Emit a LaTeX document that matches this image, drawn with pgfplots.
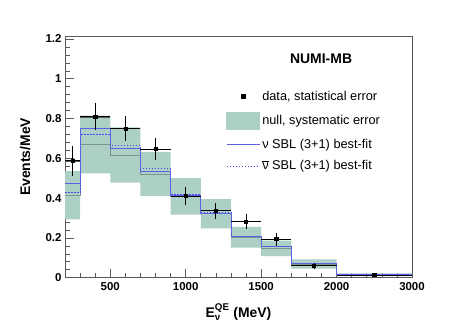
\documentclass[border=0pt]{standalone}
\usepackage{pgfplots}
\pgfplotsset{compat=1.18}
\usepackage{pgfplotstable}
\usepgfplotslibrary{fillbetween}
\usepackage{amsmath}
\usepackage{fontspec}
\setmainfont{Liberation Sans}

\definecolor{boxc}{RGB}{172,208,197}
\definecolor{nullc}{RGB}{120,150,140}
\definecolor{nuc}{RGB}{95,95,225}
\definecolor{nubarc}{RGB}{70,70,245}

\pgfplotsset{
  linelegend/.style={legend image code/.code={\draw[##1] (0bp,0bp) -- (33bp,0bp);}},
  boxlegend/.style={legend image code/.code={\fill[boxc] (0bp,-8.5bp) rectangle (33bp,8.5bp);}},
  dotlegend/.style={legend image code/.code={\fill[black] (14.5bp,-2bp) rectangle (18.5bp,2bp);}},
}

% bin edges (the 2000-3000 bin is drawn from 2000 to 2500)
\pgfplotstableread{
x    lo    hi    nul   nu    nubar
200  0.293 0.536 0.415 0.475 0.427
300  0.525 0.815 0.672 0.751 0.722
500  0.478 0.756 0.615 0.650 0.664
700  0.411 0.632 0.521 0.536 0.548
900  0.317 0.500 0.410 0.413 0.419
1100 0.248 0.395 0.322 0.324 0.328
1300 0.151 0.256 0.204 0.206 0.208
1500 0.109 0.186 0.148 0.156 0.158
1700 0.045 0.092 0.068 0.072 0.074
2000 0.008 0.022 0.015 0.017 0.017
2500 0.008 0.022 0.015 0.017 0.017
}\hist

\pgfplotstableread{
x    y      ex  eyp   eym
250  0.588  50  0.074 0.077
400  0.810  100 0.067 0.068
600  0.751  100 0.062 0.062
800  0.647  100 0.054 0.055
1000 0.411  100 0.046 0.045
1200 0.337  100 0.040 0.042
1400 0.282  100 0.037 0.037
1600 0.195  100 0.028 0.034
1850 0.060  150 0.015 0.015
2250 0.0136 250 0.004 0.004
}\data

\begin{document}
\begin{tikzpicture}
\begin{axis}[
    scale only axis,
    width=347bp, height=241.7bp,
    at={(65bp,49.3bp)}, anchor=south west,
    xmin=200, xmax=2500, ymin=0, ymax=1.215,
    xtick={500,1000,1500,2000,2500},
    xticklabels={500,1000,1500,2000,3000},
    minor xtick={300,400,600,700,800,900,1100,1200,1300,1400,1600,1700,1800,1900,2100,2200,2300,2400},
    ytick={0,0.2,0.4,0.6,0.8,1,1.2},
    yticklabels={0,0.2,0.4,0.6,0.8,1,1.2},
    minor y tick num=4,
    tick align=inside,
    xtick pos=lower, ytick pos=left,
    major tick length=9bp, minor tick length=4.5bp,
    tick style={black!65, line width=0.6bp},
    axis line style={black!65, line width=0.8bp},
    ticklabel style={font=\bfseries\fontsize{11.5}{13}\selectfont},
    xticklabel style={yshift=-1bp},
    xlabel={E$^{\text{\bfseries QE}}_{\text{ν}}$ (MeV)},
    ylabel={Events/MeV},
    label style={font=\bfseries\fontsize{14}{16}\selectfont},
    xlabel style={at={(axis description cs:0.5,-0.143)}, anchor=center},
    ylabel style={at={(axis description cs:-0.115,0.5)}, anchor=center},
    legend cell align=left,
    legend style={draw=none, fill=none, at={(0.464,0.778)}, anchor=north west,
        inner sep=0pt, row sep=9bp,
        font=\fontsize{12.8}{15}\selectfont,
        nodes={inner xsep=2.2bp, inner ysep=1bp}},
]
\addlegendimage{dotlegend}
\addlegendentry{data, statistical error}
\addlegendimage{boxlegend}
\addlegendentry{null, systematic error}
\addlegendimage{linelegend, nuc, line width=0.9bp}
\addlegendentry{ν SBL (3+1) best-fit}
\addlegendimage{linelegend, nubarc, line width=0.9bp, dash pattern=on 1.5bp off 1.5bp}
\addlegendentry{$\overline{\text{ν}}$ SBL (3+1) best-fit}

\addplot[name path=up, const plot, draw=none, forget plot] table[x=x, y=hi] {\hist};
\addplot[name path=dn, const plot, draw=none, forget plot] table[x=x, y=lo] {\hist};
\addplot[boxc, forget plot] fill between[of=up and dn];
\addplot[const plot, nullc, line width=0.6bp, forget plot] table[x=x, y=nul] {\hist};
\addplot[const plot, nubarc, line width=0.9bp, dash pattern=on 1.5bp off 1.5bp, forget plot] table[x=x, y=nubar] {\hist};
\addplot[const plot, nuc, line width=0.9bp, forget plot] table[x=x, y=nu] {\hist};
% first two bins: their horizontal bars are drawn heavier and grey
\addplot[draw=none, mark=none, forget plot, skip coords between index={2}{10},
    error bars/.cd, x dir=both, x explicit,
    error mark=none, error bar style={black!65, line width=2bp}]
    table[x=x, y=y, x error=ex] {\data};
\addplot[only marks, mark=square*, mark size=1.6bp, black, forget plot,
    error bars/.cd, x dir=both, x explicit, y dir=both, y explicit,
    error mark=none, error bar style={black, line width=0.8bp}]
    table[x=x, y=y, x error=ex, y error plus=eyp, y error minus=eym] {\data};

\node[font=\bfseries\fontsize{14}{16}\selectfont] at (rel axis cs:0.738,0.906) {NUMI-MB};
\end{axis}
\pgfresetboundingbox
\useasboundingbox (0,0) rectangle (451bp,327bp);
\end{tikzpicture}
\end{document}
